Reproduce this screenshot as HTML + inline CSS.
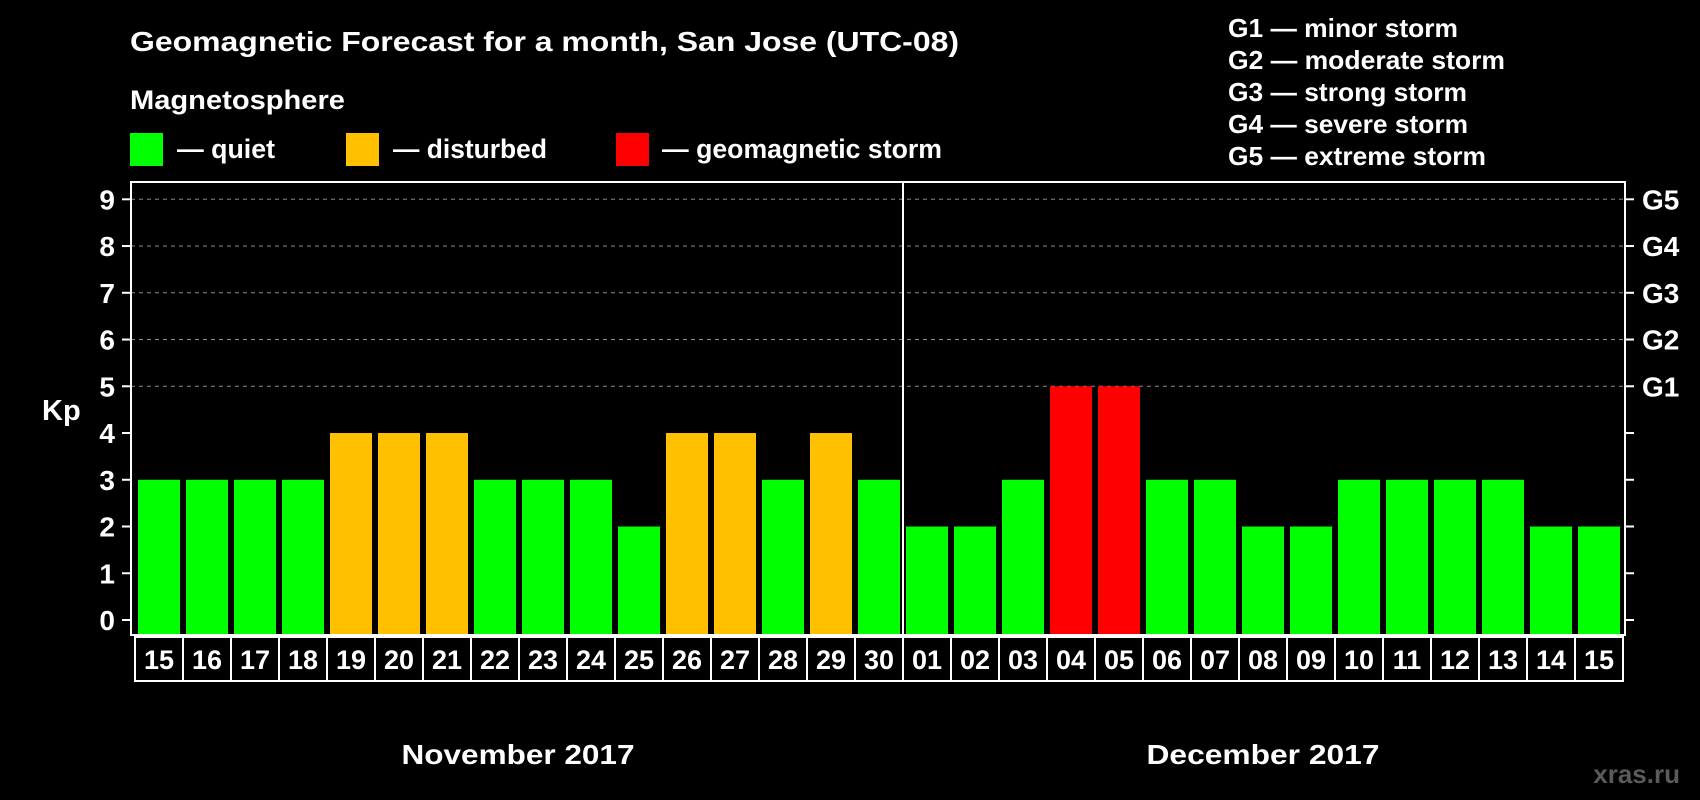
<!DOCTYPE html>
<html><head><meta charset="utf-8"><style>
html,body{margin:0;padding:0;background:#000;}
svg{display:block;font-family:"Liberation Sans",Arial,sans-serif;font-weight:bold;}
</style></head><body>
<svg id="chart" width="1700" height="800" viewBox="0 0 1700 800" xmlns="http://www.w3.org/2000/svg">
<rect width="1700" height="800" fill="#000"/>
<text x="130" y="51" font-size="28" fill="#fff" textLength="829" lengthAdjust="spacingAndGlyphs">Geomagnetic Forecast for a month, San Jose (UTC-08)</text>
<text x="130" y="109" font-size="27" fill="#fff" textLength="215" lengthAdjust="spacingAndGlyphs">Magnetosphere</text>
<rect x="130" y="133" width="33" height="33" fill="#00ff00"/>
<text x="177" y="158" font-size="27" fill="#fff" textLength="98" lengthAdjust="spacingAndGlyphs">— quiet</text>
<rect x="346" y="133" width="33" height="33" fill="#ffc000"/>
<text x="393" y="158" font-size="27" fill="#fff" textLength="154" lengthAdjust="spacingAndGlyphs">— disturbed</text>
<rect x="616" y="133" width="33" height="33" fill="#ff0000"/>
<text x="662" y="158" font-size="27" fill="#fff" textLength="280" lengthAdjust="spacingAndGlyphs">— geomagnetic storm</text>
<g font-size="26" fill="#fff">
<text x="1228" y="37" textLength="230" lengthAdjust="spacingAndGlyphs">G1 — minor storm</text>
<text x="1228" y="69" textLength="277" lengthAdjust="spacingAndGlyphs">G2 — moderate storm</text>
<text x="1228" y="101" textLength="239" lengthAdjust="spacingAndGlyphs">G3 — strong storm</text>
<text x="1228" y="133" textLength="240" lengthAdjust="spacingAndGlyphs">G4 — severe storm</text>
<text x="1228" y="165" textLength="258" lengthAdjust="spacingAndGlyphs">G5 — extreme storm</text>
</g>
<g id="grid"></g>
<g id="bars"></g>
<g id="axes"></g>
<text x="42" y="420" font-size="29" fill="#fff">Kp</text>
<text x="518" y="764" font-size="28" fill="#fff" text-anchor="middle" textLength="233" lengthAdjust="spacingAndGlyphs">November 2017</text>
<text x="1263" y="764" font-size="28" fill="#fff" text-anchor="middle" textLength="233" lengthAdjust="spacingAndGlyphs">December 2017</text>
<text x="1680" y="783" font-size="26" fill="#5a5a5a" text-anchor="end">xras.ru</text>
</svg>
<script>
const days = ["15","16","17","18","19","20","21","22","23","24","25","26","27","28","29","30","01","02","03","04","05","06","07","08","09","10","11","12","13","14","15"];
const kpValues = [3,3,3,3,4,4,4,3,3,3,2,4,4,3,4,3,2,2,3,5,5,3,3,2,2,3,3,3,3,2,2];
const yTicks = [0,1,2,3,4,5,6,7,8,9];
const gLabels = ["G1","G2","G3","G4","G5"];
const gLevels = [5,6,7,8,9];
const monthSplitIndex = 16;

const NS = "http://www.w3.org/2000/svg";
const plotL = 131, plotR = 1625, plotT = 182, plotB = 635;
const slotX0 = 135, slotW = 48, barBottom = 634;
function yScale(v){ return 620 - v * (620 - 199.3) / 9; }
function xSlot(i){ return slotX0 + i * slotW; }
function mk(tag, attrs, parent){ const e = document.createElementNS(NS, tag); for (const k in attrs) e.setAttribute(k, attrs[k]); parent.appendChild(e); return e; }
function colorFor(v){ return v >= 5 ? "#ff0000" : (v >= 4 ? "#ffc000" : "#00ff00"); }

const grid = document.getElementById("grid");
const bars = document.getElementById("bars");
const axes = document.getElementById("axes");

gLevels.forEach((lv, i) => {
  const y = yScale(lv);
  const l = mk("line", {x1: plotL, x2: plotR, y1: y, y2: y, stroke: "#8a8a8a", "stroke-width": 1, "stroke-dasharray": "4,4"}, grid);
  
  
  const t = mk("text", {x: 1642, y: y + 10, "font-size": 28, fill: "#fff"}, axes);
  t.textContent = gLabels[i];
  
  
});

kpValues.forEach((v, i) => {
  const x = xSlot(i) + 3;
  const y = yScale(v);
  const r = mk("rect", {x: x, y: y, width: 42, height: barBottom - y, fill: colorFor(v)}, bars);
  
  
});

const frame = mk("rect", {x: plotL, y: plotT, width: plotR - plotL, height: plotB - plotT, fill: "none", stroke: "#fff", "stroke-width": 2}, axes);



const divX = xSlot(monthSplitIndex);
const dv = mk("line", {x1: divX, x2: divX, y1: plotT, y2: plotB, stroke: "#fff", "stroke-width": 2}, axes);



yTicks.forEach(v => {
  const y = yScale(v);
  const tl = mk("line", {x1: 122, x2: plotL, y1: y, y2: y, stroke: "#fff", "stroke-width": 2}, axes);
  
  
  const tr = mk("line", {x1: plotR, x2: 1634, y1: y, y2: y, stroke: "#fff", "stroke-width": 2}, axes);
  
  
  const t = mk("text", {x: 115, y: y + 10, "font-size": 28, fill: "#fff", "text-anchor": "end"}, axes);
  t.textContent = v;
  
  
});

days.forEach((d, i) => {
  const x = xSlot(i);
  const b = mk("rect", {x: x, y: 637, width: slotW, height: 44, fill: "#000", stroke: "#fff", "stroke-width": 2}, axes);
  
  
  const t = mk("text", {x: x + slotW / 2, y: 669, "font-size": 27, fill: "#fff", "text-anchor": "middle"}, axes);
  t.textContent = d;
  
  
});
</script>
</body></html>
